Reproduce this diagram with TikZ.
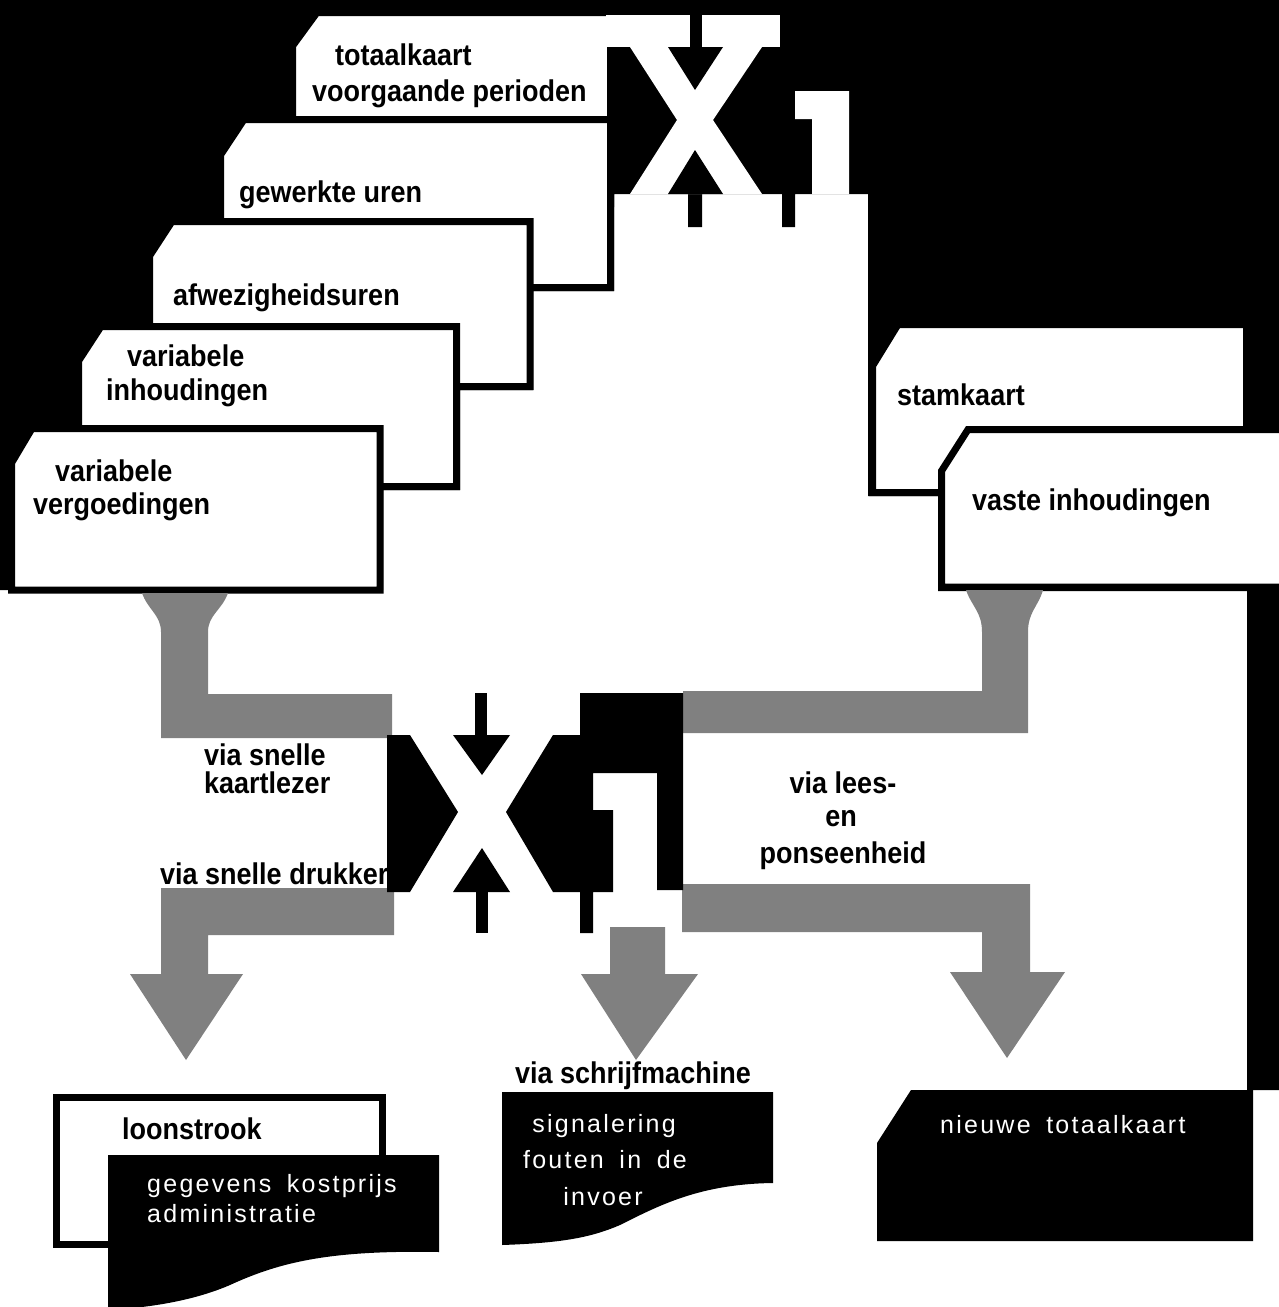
\documentclass[tikz,border=0pt]{standalone}
\usepackage{fontspec}
\setmainfont{Liberation Sans}
\newfontfamily\labfont[FakeStretch=0.9]{Liberation Sans}
\newfontfamily\wfont[LetterSpace=9,WordSpace=1.7]{Liberation Sans}
\definecolor{arrowgray}{gray}{0.5}
\begin{document}
\begin{tikzpicture}[x=1pt,y=-1pt,
  card/.style={fill=white,draw=black,line width=7pt,line join=miter},
  blk/.style={fill=black},
  wht/.style={fill=white},
  garrow/.style={fill=arrowgray},
  lab/.style={font=\labfont\bfseries\fontsize{30}{30}\selectfont,inner sep=0pt,anchor=base west,text=black},
  wlab/.style={font=\wfont\fontsize{25}{25}\selectfont,inner sep=0pt,anchor=base west,text=white}]
\useasboundingbox (0,0) rectangle (1279,1307);
\clip (0,0) rectangle (1279,1307);
\fill[white] (0,0) rectangle (1279,1307);
% black background
\fill[blk] (0,0) -- (1279,0) -- (1279,1090) -- (1247,1090) -- (1247,591) -- (938,591) -- (938,496)
  -- (868,496) -- (868,194) -- (795,194) -- (795,227) -- (782,227) -- (782,194) -- (702,194)
  -- (702,227) -- (688,227) -- (688,194) -- (614,194) -- (614,291) -- (533,291) -- (533,390)
  -- (460,390) -- (460,490) -- (383,490) -- (383,590) -- (0,590) -- cycle;
% stacked cards (left)
\draw[card] (292.5,46) -- (317,12.5) -- (610.5,12.5) -- (610.5,203.5) -- (292.5,203.5) -- cycle;
\draw[card] (220.5,155) -- (244,119.5) -- (610.5,119.5) -- (610.5,287.5) -- (220.5,287.5) -- cycle;
\draw[card] (149.5,256) -- (172,221.5) -- (530,221.5) -- (530,386.5) -- (149.5,386.5) -- cycle;
\draw[card] (78.5,361) -- (101,326.5) -- (456.5,326.5) -- (456.5,486.5) -- (78.5,486.5) -- cycle;
\draw[card] (11.5,463) -- (32,428.5) -- (380,428.5) -- (380,590) -- (11.5,590) -- cycle;
% cards (right)
\draw[card] (872.5,366) -- (898,324.5) -- (1246.5,324.5) -- (1246.5,492.5) -- (872.5,492.5) -- cycle;
\draw[card] (941.5,471) -- (968,429.5) -- (1290,429.5) -- (1290,587) -- (941.5,587) -- cycle;
% top processor symbol
\fill[wht] (606,15) rectangle (690,47);
\fill[wht] (702,15) rectangle (780,47);
\fill[wht] (630,47) -- (762,47) -- (713,120) -- (762,194) -- (630,194) -- (677,120) -- cycle;
\fill[blk] (668,47) -- (723,47) -- (695,90) -- cycle;
\fill[blk] (668,194) -- (723,194) -- (695,150) -- cycle;
\fill[wht] (795,91) -- (849,91) -- (849,194) -- (812,194) -- (812,119) -- (795,119) -- cycle;
% grey flow arrows
\fill[garrow] (142,593) -- (228,593) .. controls (222,610) and (208,615) .. (208,632) -- (208,694)
  -- (392,694) -- (392,738) -- (161,738) -- (161,632) .. controls (161,615) and (148,610) .. (142,593) -- cycle;
\fill[garrow] (966,590) -- (1043,590) .. controls (1038,607) and (1028,612) .. (1028,632) -- (1028,733)
  -- (683,733) -- (683,691) -- (982,691) -- (982,632) .. controls (982,612) and (972,607) .. (966,590) -- cycle;
\fill[garrow] (161,888) -- (394,888) -- (394,935) -- (208,935) -- (208,974) -- (243,974) -- (186,1060)
  -- (130,974) -- (161,974) -- cycle;
\fill[garrow] (610,927) -- (665,927) -- (665,974) -- (698,974) -- (636,1060) -- (581,974) -- (610,974) -- cycle;
\fill[garrow] (682,884) -- (1030,884) -- (1030,972) -- (1065,972) -- (1007,1058) -- (950,972) -- (982,972)
  -- (982,932) -- (682,932) -- cycle;
% bottom processor symbol
\fill[blk] (387,735) -- (410,735) -- (458,812) -- (410,892) -- (387,892) -- cycle;
\fill[blk] (475,693) rectangle (487,737);
\fill[blk] (453,735) -- (510,735) -- (482,775) -- cycle;
\fill[blk] (453,892) -- (510,892) -- (482,848) -- cycle;
\fill[blk] (476,890) rectangle (488,933);
\fill[blk] (553,735) -- (580,735) -- (580,693) -- (683,693) -- (683,890) -- (657,890) -- (657,773)
  -- (593,773) -- (593,810) -- (613,810) -- (613,892) -- (593,892) -- (593,933) -- (580,933)
  -- (580,892) -- (553,892) -- (506,812) -- cycle;
% output documents
\draw[card] (56.5,1097.5) rectangle (382.5,1244.5);
\fill[blk] (108,1155) -- (439,1155) -- (439,1252) .. controls (330,1250) and (280,1262) .. (230,1285)
  .. controls (200,1298) and (160,1307) .. (108,1310) -- cycle;
\fill[blk] (502,1092) -- (773,1092) -- (773,1183) .. controls (700,1184) and (660,1205) .. (620,1225)
  .. controls (590,1238) and (560,1243) .. (502,1245) -- cycle;
\fill[blk] (877,1143) -- (911,1090) -- (1253,1090) -- (1253,1241) -- (877,1241) -- cycle;
% labels
\node[lab] (t1a) at (335,65) {totaalkaart};
\node[lab] (t1b) at (312,101) {voorgaande perioden};
\node[lab] (t2) at (239,202) {gewerkte uren};
\node[lab] (t3) at (173,305) {afwezigheidsuren};
\node[lab] (t4a) at (127,366) {variabele};
\node[lab] (t4b) at (106,400) {inhoudingen};
\node[lab] (t5a) at (55,481) {variabele};
\node[lab] (t5b) at (33,514) {vergoedingen};
\node[lab] (st) at (897,405) {stamkaart};
\node[lab] (vi) at (972,510) {vaste inhoudingen};
\node[lab] (k1) at (204,765) {via snelle};
\node[lab] (k2) at (204,793) {kaartlezer};
\node[lab] (dr) at (160,884) {via snelle drukker};
\node[lab,anchor=base] (lp1) at (843,793) {via lees-};
\node[lab,anchor=base] (lp2) at (841,826) {en};
\node[lab,anchor=base] (lp3) at (843,863) {ponseenheid};
\node[lab] (sm) at (515,1083) {via schrijfmachine};
\node[lab] (ls) at (122,1139) {loonstrook};
\node[wlab] (g1) at (147,1192) {gegevens kostprijs};
\node[wlab] (g2) at (147,1222) {administratie};
\node[wlab,anchor=base] (s1) at (604,1132) {signalering};
\node[wlab,anchor=base] (s2) at (605,1168) {fouten in de};
\node[wlab,anchor=base] (s3) at (603,1205) {invoer};
\node[wlab] (nt) at (940,1133) {nieuwe totaalkaart};
\end{tikzpicture}
\end{document}
